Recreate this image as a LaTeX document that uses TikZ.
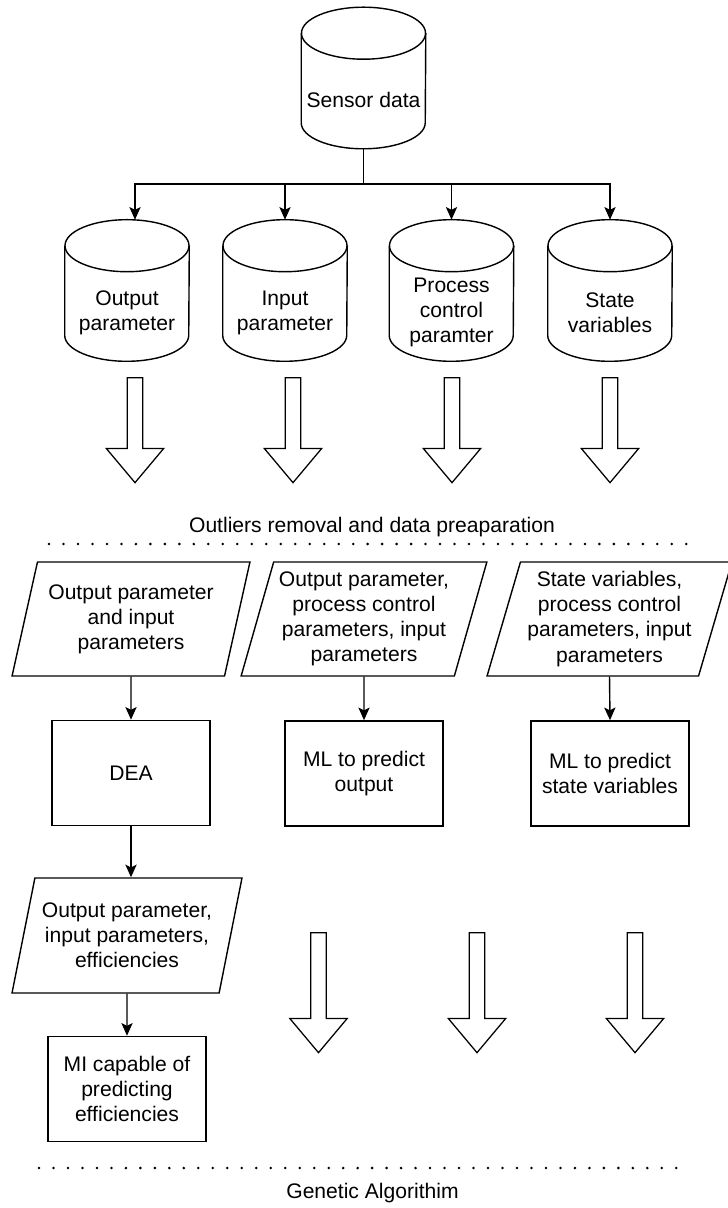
\documentclass[tikz,border=0pt]{standalone}
\usepackage{fontspec}
\setmainfont{Liberation Sans}
\usetikzlibrary{shapes.geometric, shapes.arrows, arrows.meta}

% outline of a data store round a named text node
\newcommand{\dbshape}[1]{%
  \draw[dbline] ([yshift=0.55cm]#1.north) ellipse [x radius=1.55cm, y radius=0.65cm];
  \draw[dbline] ([yshift=0.55cm]#1.north west) -- ([yshift=0.55cm]#1.south west)
    arc[start angle=180, end angle=360, x radius=1.55cm, y radius=0.65cm]
    -- ([yshift=0.55cm]#1.north east);}

\begin{document}
\begin{tikzpicture}[
    x=0.025cm, y=-0.025cm,
    dbase/.style={rectangle, minimum width=3.1cm, minimum height=2.225cm, align=center, inner sep=0pt},
    dbline/.style={line width=1pt},
    dataio/.style={draw, trapezium, trapezium left angle=72, trapezium right angle=108, trapezium stretches=true, minimum width=6.15cm, minimum height=2.85cm, align=center, inner sep=0pt, line width=1pt},
    process/.style={draw, rectangle, minimum width=3.95cm, minimum height=2.63cm, align=center, line width=1pt},
    bigarrow/.style={draw, single arrow, shape border rotate=270, single arrow head extend=0.52cm, single arrow tip angle=80, inner sep=0.18cm, anchor=tail, line width=0.9pt},
    conn/.style={line width=1pt, -{Stealth[length=9pt, width=8pt, inset=2pt]}},
    sepline/.style={line width=2pt, line cap=round, dash pattern=on 0pt off 10.3pt},
    every node/.style={font=\fontsize{15}{17.8}\selectfont}
]
    \useasboundingbox (0,0) rectangle (728,1208);

    % ===============================
    % 1. SENSOR DATA AND STORES
    % ===============================
    \node[dbase] (sensor) at (363.5, 100) {Sensor data};
    \dbshape{sensor}

    \node[dbase] (outp) at (127, 312.5) {Output\\parameter};
    \node[dbase] (inp) at (285, 312.5) {Input\\parameter};
    \node[dbase] (proc) at (451.5, 312.5) {Process\\control\\paramter};
    \node[dbase] (state) at (610, 312.5) {State\\variables};
    \dbshape{outp}
    \dbshape{inp}
    \dbshape{proc}
    \dbshape{state}

    \coordinate (bus) at (363.5, 184);
    \draw[line width=1pt] ([yshift=-0.1cm]sensor.south) -- (bus);
    \draw[conn] (bus) -| ([xshift=0.2cm, yshift=1.2cm]outp.north);
    \draw[conn] (bus) -| ([yshift=1.2cm]inp.north);
    \draw[conn] (bus) -| ([yshift=1.2cm]proc.north);
    \draw[conn] (bus) -| ([yshift=1.2cm]state.north);

    % ===============================
    % 2. PREPARATION
    % ===============================
    \node[bigarrow, minimum height=2.625cm] (prepA) at (135, 377) {};
    \node[bigarrow, minimum height=2.625cm] (prepB) at (293, 377) {};
    \node[bigarrow, minimum height=2.625cm] (prepC) at (452, 377) {};
    \node[bigarrow, minimum height=2.625cm] (prepD) at (610, 377) {};

    \node (prep) at (372, 527) {Outliers removal and data preaparation};
    \coordinate (prepL) at (49, 544);
    \coordinate (prepR) at (696, 544);
    \draw[sepline] (prepL) -- (prepR);

    % ===============================
    % 3. MODELS
    % ===============================
    \node[dataio, minimum width=5.95cm] (ioA) at (131, 619) {Output parameter\\and input\\parameters};
    \node[dataio] (ioB) at (364, 619) {Output parameter,\\process control\\parameters, input\\parameters};
    \node[dataio, minimum width=6.125cm] (ioC) at (609.5, 619) {State variables,\\process control\\parameters, input\\parameters};

    \node[process] (dea) at (131, 773) {DEA};
    \node[process] (mlout) at (364, 773.5) {ML to predict\\output};
    \node[process] (mlstate) at (610, 773.5) {ML to predict\\state variables};

    \draw[conn] (ioA.south) -- (dea.north);
    \draw[conn] (ioB.south) -- (mlout.north);
    \draw[conn] (ioC.south) -- (mlstate.north);

    \node[dataio, minimum width=5.75cm, minimum height=2.875cm] (ioD) at (127, 935.5) {Output parameter,\\input parameters,\\efficiencies};
    \node[process] (mi) at (127, 1089) {MI capable of\\predicting\\efficiencies};

    \draw[conn] (dea.south) -- (dea.south |- ioD.north);
    \draw[conn] (ioD.south) -- (mi.north);

    % ===============================
    % 4. GENETIC ALGORITHM
    % ===============================
    \node[bigarrow, minimum height=3cm] (gaA) at (318.5, 932) {};
    \node[bigarrow, minimum height=3cm] (gaB) at (477, 932) {};
    \node[bigarrow, minimum height=3cm] (gaC) at (635, 932) {};

    \coordinate (gaL) at (39, 1168);
    \coordinate (gaR) at (689, 1168);
    \draw[sepline] (gaL) -- (gaR);
    \node (ga) at (372.5, 1193) {Genetic Algorithim};

\end{tikzpicture}
\end{document}
